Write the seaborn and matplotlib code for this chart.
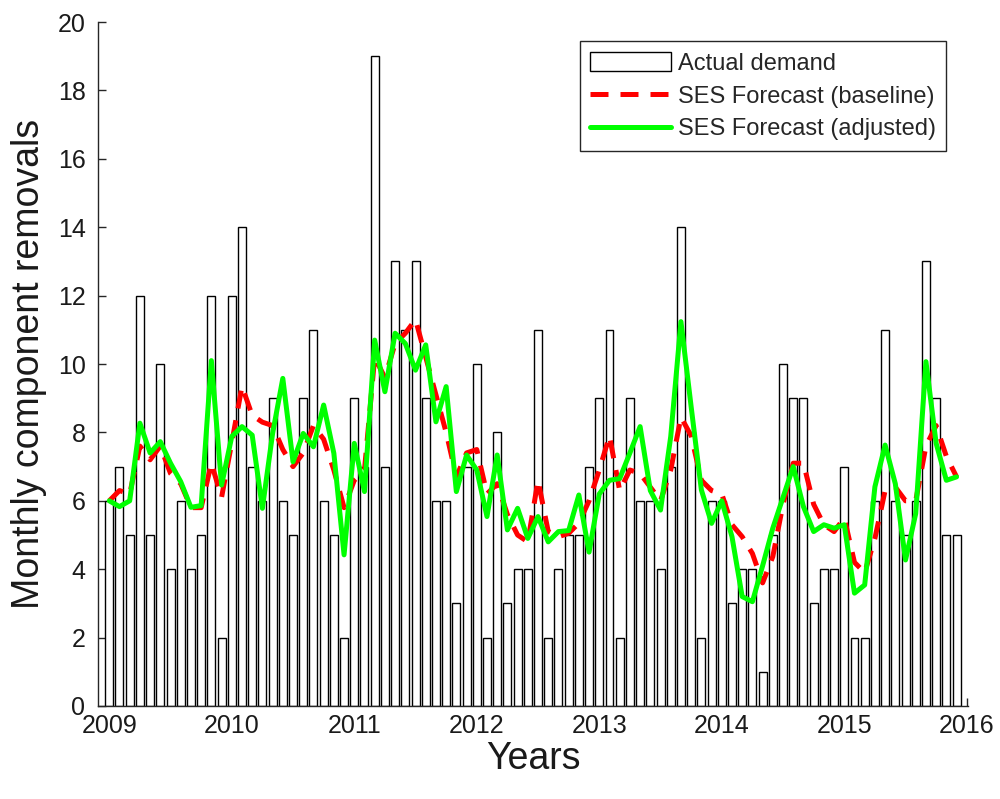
import numpy as np
import pandas as pd
import matplotlib
matplotlib.use("Agg")
import matplotlib.pyplot as plt
import seaborn as sns

# monthly removals, Jan 2009 .. Dec 2015
actual = [6, 7, 5, 12, 5, 10, 4, 6, 4, 5, 12, 2,
          12, 14, 7, 6, 9, 6, 5, 9, 11, 6, 5, 2,
          9, 7, 19, 7, 13, 11, 13, 9, 6, 6, 3, 7,
          10, 2, 8, 3, 4, 4, 11, 2, 4, 5, 5, 7,
          9, 11, 2, 9, 6, 6, 4, 7, 14, 8, 2, 6,
          6, 3, 4, 4, 1, 5, 10, 9, 9, 3, 4, 4,
          7, 2, 2, 6, 11, 6, 5, 6, 13, 9, 5, 5]

ses_baseline = [6.0, 6.3, 6.2, 7.6, 7.2, 7.6, 6.8, 6.5, 5.8, 5.8, 7.1, 6.1,
                7.7, 9.35, 8.5, 8.3, 8.2, 7.5, 7.0, 7.4, 8.2, 7.8, 6.9, 5.8,
                6.6, 6.9, 10.2, 9.6, 10.6, 10.9, 11.3, 10.2, 9.1, 8.0, 6.7, 7.4,
                7.5, 6.2, 6.5, 5.6, 5.0, 4.8, 6.6, 5.1, 4.95, 5.05, 5.35, 6.0,
                6.9, 7.9, 6.3, 6.9, 6.8, 6.4, 6.0, 6.9, 8.45, 7.9, 6.6, 6.3,
                6.2, 5.3, 4.95, 4.46, 3.6, 4.37, 5.9, 7.1, 7.1, 5.9, 5.3, 5.1,
                5.5, 4.2, 3.9, 4.9, 6.3, 6.4, 6.0, 6.0, 7.6, 8.2, 7.3, 6.7]

ses_adjusted = [6.0, 5.83, 6.0, 8.27, 7.4, 7.73, 7.1, 6.56, 5.81, 5.86, 10.1, 6.46,
                7.88, 8.17, 7.92, 5.78, 7.97, 9.58, 7.14, 7.97, 7.58, 8.8, 7.39, 4.42,
                7.68, 6.27, 10.7, 9.19, 10.9, 10.6, 9.82, 10.56, 8.31, 9.34, 6.27, 7.34,
                6.9, 5.54, 7.34, 5.15, 5.78, 4.9, 5.54, 4.8, 5.1, 5.13, 6.17, 4.5,
                6.2, 6.6, 6.65, 7.4, 8.17, 6.3, 5.73, 7.88, 11.24, 8.75, 6.32, 5.34,
                6.0, 4.95, 3.2, 3.05, 4.1, 5.2, 6.1, 7.0, 5.83, 5.1, 5.3, 5.2,
                5.3, 3.3, 3.54, 6.41, 7.63, 6.5, 4.27, 5.63, 10.07, 7.68, 6.6, 6.7]

years = [2009, 2010, 2011, 2012, 2013, 2014, 2015, 2016]
yticks = [0, 2, 4, 6, 8, 10, 12, 14, 16, 18, 20]

# decimal year for each month
t = 2009 + np.arange(len(actual)) / 12.0
df = pd.DataFrame({"t": t, "actual": actual,
                   "baseline": ses_baseline, "adjusted": ses_adjusted})

sns.set_style("ticks")
plt.rcParams["font.family"] = ["Liberation Sans", "DejaVu Sans"]

fig = plt.figure(figsize=(10, 7.99), dpi=100)
ax = fig.add_axes([0.098, 0.1164, 0.87, 0.856])

bars = ax.bar(df["t"], df["actual"], width=0.78 / 12, color="white",
              edgecolor="black", linewidth=1.0, label="Actual demand", zorder=2)

sns.lineplot(data=df, x="t", y="baseline", ax=ax, color="#ff0000",
             linewidth=3.6, label="SES Forecast (baseline)", zorder=3)
ax.lines[-1].set_dashes((3.6, 2.4))
sns.lineplot(data=df, x="t", y="adjusted", ax=ax, color="#00ff00",
             linewidth=3.6, label="SES Forecast (adjusted)", zorder=4)

ax.set_xlim(2008.908, 2016.01)
ax.set_ylim(0, 20)
ax.set_xticks(years)
ax.set_xticklabels([str(y) for y in years])
ax.set_yticks(yticks)
ax.tick_params(direction="in", length=6, width=1, labelsize=18,
               colors="#262626", labelcolor="#1a1a1a")
ax.tick_params(axis="y", pad=9)
ax.tick_params(axis="x", pad=6)

for s in ["top", "right"]:
    ax.spines[s].set_visible(False)
for s in ["left", "bottom"]:
    ax.spines[s].set_color("#262626")
    ax.spines[s].set_linewidth(1.0)

ax.set_xlabel("Years", fontsize=27, labelpad=2, color="#1a1a1a")
ax.set_ylabel("Monthly component removals", fontsize=27, labelpad=8, color="#1a1a1a")

handles, labels = ax.get_legend_handles_labels()
order = [labels.index("Actual demand"), labels.index("SES Forecast (baseline)"),
         labels.index("SES Forecast (adjusted)")]
leg = ax.legend([handles[i] for i in order], [labels[i] for i in order],
                loc="upper right", bbox_to_anchor=(0.975, 0.972),
                fontsize=17, frameon=True, fancybox=False, framealpha=1,
                edgecolor="#262626", handlelength=3.4, handleheight=0.9,
                handletextpad=0.3, borderpad=0.45, labelspacing=0.42,
                borderaxespad=0)
leg.get_frame().set_linewidth(1.0)

fig.savefig("out.png", dpi=100)
